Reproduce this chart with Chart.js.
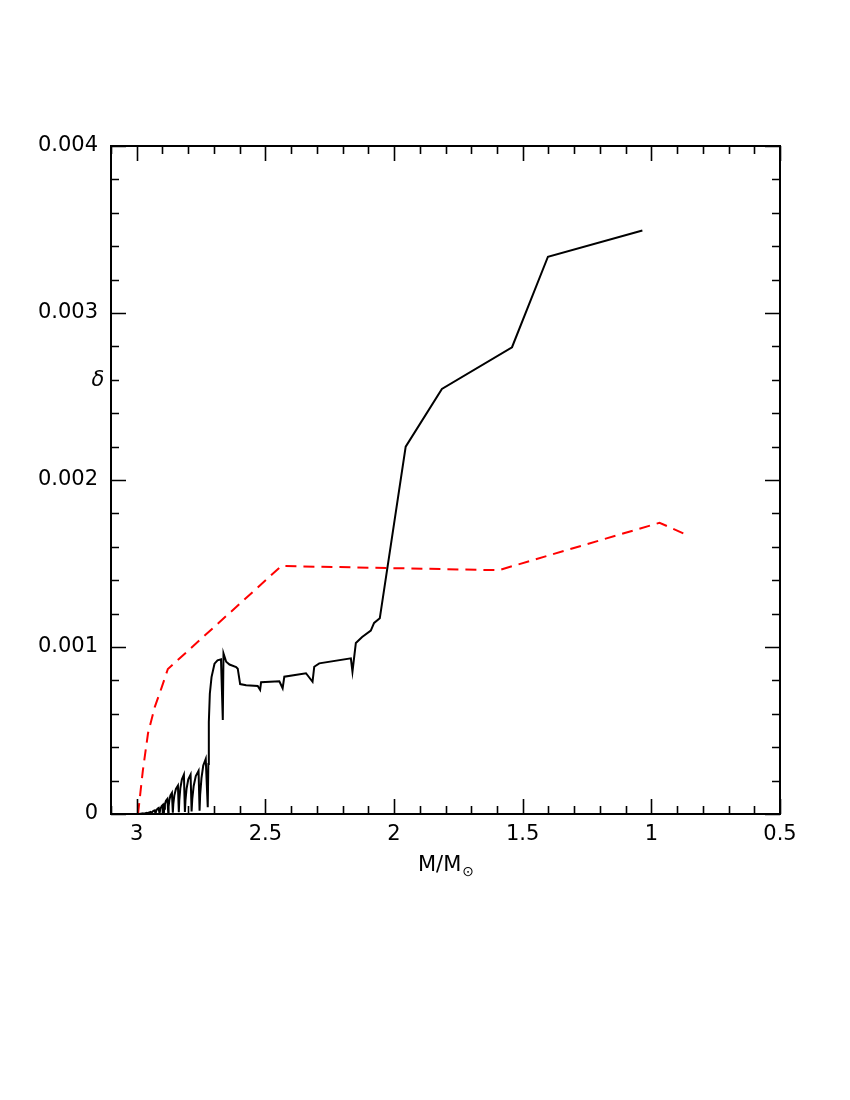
<!DOCTYPE html>
<html>
<head>
<meta charset="utf-8">
<script src="https://cdn.jsdelivr.net/npm/chart.js@4.4.1/dist/chart.umd.min.js"></script>
<style>
html,body{margin:0;padding:0;background:#fff;}
#wrap{width:850px;height:1100px;position:relative;}
</style>
</head>
<body>
<div id="wrap"><canvas id="c"></canvas></div>
<script>
// ---- data ----
const blackMass = [
  2.9922, 2.9845, 2.9756, 2.9729, 2.9690, 2.9624, 2.9597, 2.9562, 2.9512, 2.9469,
  2.9438, 2.9399, 2.9349, 2.9302, 2.9271, 2.9240, 2.9194, 2.9147, 2.9116, 2.9081,
  2.9031, 2.8981, 2.8946,
  2.8932, 2.8905, 2.8864, 2.8810, 2.8775,
  2.8761, 2.8733, 2.8690, 2.8632, 2.8597,
  2.8578, 2.8539, 2.8477, 2.8399, 2.8364,
  2.8345, 2.8306, 2.8244, 2.8167, 2.8128,
  2.8105, 2.8062, 2.7996, 2.7907, 2.7868,
  2.7841, 2.7787, 2.7705, 2.7597, 2.7558,
  2.7535, 2.7484, 2.7415, 2.7318, 2.7240,
  2.7217, 2.7198, 2.7159, 2.7093, 2.6977, 2.6860, 2.6725, 2.6655, 2.6628, 2.6523,
  2.6395, 2.6136, 2.6074, 2.5981, 2.5748, 2.5298, 2.5205, 2.5167, 2.4457, 2.4329,
  2.4264, 2.3422, 2.3167, 2.3101, 2.2907, 2.1678, 2.1616, 2.1484, 2.1240, 2.0903,
  2.0775, 2.0554, 1.9547, 1.8140, 1.5415, 1.4019, 1.0349
];
const blackDelta = [
  0.0000000, 0.0000020, 0.0000040, 0.0000005, 0.0000040, 0.0000070, 0.0000010, 0.0000070, 0.0000100, 0.0000120,
  0.0000010, 0.0000120, 0.0000190, 0.0000220, 0.0000020, 0.0000200, 0.0000310, 0.0000360, 0.0000030, 0.0000300,
  0.0000480, 0.0000560, 0.0000040,
  0.0000315, 0.0000585, 0.0000792, 0.0000900, 0.0000060,
  0.0000440, 0.0000820, 0.0001110, 0.0001260, 0.0000080,
  0.0000600, 0.0001100, 0.0001500, 0.0001700, 0.0000100,
  0.0000830, 0.0001530, 0.0002080, 0.0002360, 0.0000120,
  0.0000830, 0.0001530, 0.0002080, 0.0002360, 0.0000150,
  0.0000900, 0.0001680, 0.0002270, 0.0002580, 0.0000200,
  0.0001150, 0.0002150, 0.0002900, 0.0003300, 0.0000400,
  0.0003000, 0.0005500, 0.0007200, 0.0008200, 0.0009000, 0.0009200, 0.0009260, 0.0005630, 0.0009620, 0.0009120,
  0.0008950, 0.0008800, 0.0008700, 0.0007780, 0.0007710, 0.0007660, 0.0007430, 0.0007890, 0.0007950, 0.0007530,
  0.0008220, 0.0008430, 0.0007920, 0.0008820, 0.0009020, 0.0009320, 0.0008520, 0.0010240, 0.0010600, 0.0010980,
  0.0011440, 0.0011720, 0.0022000, 0.0025450, 0.0027950, 0.0033370, 0.0034940
];
const redMass  = [2.995, 2.976, 2.956, 2.930, 2.904, 2.879, 2.438, 1.593, 0.968, 0.860];
const redDelta = [0.0, 0.000263, 0.000485, 0.00064, 0.000754, 0.000868, 0.001485, 0.00146, 0.001744, 0.00167];

const xTicks = [3, 2.5, 2, 1.5, 1, 0.5];
const xTickLabels = ['3', '2.5', '2', '1.5', '1', '0.5'];
const yTicks = [0, 0.001, 0.002, 0.003, 0.004];
const yTickLabels = ['0', '0.001', '0.002', '0.003', '0.004'];
const xLabel = 'M/M';
const xLabelSub = '\u2299';
const yLabel = '\u03B4';

// ---- chart ----
const FONT = '"DejaVu Sans", sans-serif';

const framePlugin = {
  id: 'frame',
  afterDraw(chart) {
    const ctx = chart.ctx;
    const a = chart.chartArea;
    const xs = chart.scales.x, ys = chart.scales.y;
    ctx.save();
    ctx.strokeStyle = '#000';
    ctx.lineWidth = 2;
    ctx.strokeRect(a.left, a.top, a.right - a.left, a.bottom - a.top);
    ctx.lineWidth = 1.6;
    ctx.beginPath();
    for (let i = 5; i <= 31; i++) {
      const v = i / 10;
      const px = Math.round(xs.getPixelForValue(v)) + 0.5;
      const len = (i % 5 === 0) ? 15 : 8;
      ctx.moveTo(px, a.bottom); ctx.lineTo(px, a.bottom - len);
      ctx.moveTo(px, a.top); ctx.lineTo(px, a.top + len);
    }
    for (let j = 0; j <= 20; j++) {
      const v = j * 0.0002;
      const py = Math.round(ys.getPixelForValue(v)) + 0.5;
      const len = (j % 5 === 0) ? 15 : 8;
      ctx.moveTo(a.left, py); ctx.lineTo(a.left + len, py);
      ctx.moveTo(a.right, py); ctx.lineTo(a.right - len, py);
    }
    ctx.stroke();
    // axis titles
    ctx.fillStyle = '#000';
    ctx.textBaseline = 'alphabetic';
    ctx.textAlign = 'left';
    ctx.font = '21px ' + FONT;
    const w1 = ctx.measureText(xLabel).width;
    ctx.font = '14px ' + FONT;
    const w2 = ctx.measureText(xLabelSub).width;
    const cx = (a.left + a.right) / 2;
    const sx = cx - (w1 + w2) / 2;
    ctx.font = '21px ' + FONT;
    ctx.fillText(xLabel, sx, 871);
    ctx.font = '14px ' + FONT;
    ctx.fillText(xLabelSub, sx + w1 + 1, 876);
    ctx.font = 'italic 21px ' + FONT;
    ctx.textAlign = 'center';
    ctx.textBaseline = 'middle';
    ctx.fillText(yLabel, 98, 381);
    ctx.restore();
  }
};

new Chart(document.getElementById('c'), {
  type: 'line',
  data: {
    datasets: [
      {
        data: blackMass.map((m, i) => ({x: m, y: blackDelta[i]})),
        borderColor: '#000', borderWidth: 2, pointRadius: 0, tension: 0, fill: false
      },
      {
        data: redMass.map((m, i) => ({x: m, y: redDelta[i]})),
        borderColor: '#ff0000', borderWidth: 2, borderDash: [11, 7], pointRadius: 0, tension: 0, fill: false
      }
    ]
  },
  options: {
    responsive: true, maintainAspectRatio: false, animation: false,
    plugins: { legend: {display: false}, tooltip: {enabled: false} },
    layout: { padding: {top: 146, right: 70, left: 0, bottom: 0} },
    scales: {
      x: {
        type: 'linear', reverse: true, min: 0.5, max: 3.1,
        grid: {display: false, drawTicks: false}, border: {display: false},
        afterBuildTicks: s => { s.ticks = xTicks.map(v => ({value: v})); },
        afterFit: s => { s.height = 286; },
        ticks: {
          color: '#000', padding: 8, maxRotation: 0, autoSkip: false,
          font: {family: FONT, size: 21},
          callback: (v) => { const k = xTicks.indexOf(v); return k >= 0 ? xTickLabels[k] : ''; }
        }
      },
      y: {
        type: 'linear', min: 0, max: 0.004,
        grid: {display: false, drawTicks: false}, border: {display: false},
        afterBuildTicks: s => { s.ticks = yTicks.map(v => ({value: v})); },
        afterFit: s => { s.width = 111; },
        ticks: {
          color: '#000', padding: 13, autoSkip: false,
          font: {family: FONT, size: 21},
          callback: (v) => { const k = yTicks.indexOf(v); return k >= 0 ? yTickLabels[k] : ''; }
        }
      }
    }
  },
  plugins: [framePlugin]
});
</script>
</body>
</html>
